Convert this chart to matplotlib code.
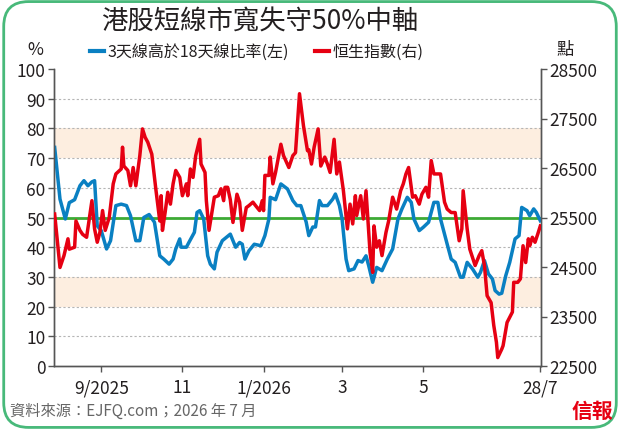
import matplotlib
matplotlib.use("Agg")
import matplotlib.pyplot as plt
import matplotlib.dates as mdates
from matplotlib.patches import FancyBboxPatch
import pandas as pd

plt.rcParams['font.family'] = ['Noto Sans CJK TC', 'DejaVu Sans']

# 3天線高於18天線比率 (左軸, %)
breadth_dates = [
    "2025-07-28", "2025-08-01", "2025-08-05", "2025-08-08", "2025-08-12", "2025-08-16",
    "2025-08-19", "2025-08-22", "2025-08-25", "2025-08-27", "2025-08-29", "2025-09-01",
    "2025-09-05", "2025-09-08", "2025-09-12", "2025-09-16", "2025-09-20", "2025-09-23",
    "2025-09-27", "2025-09-30", "2025-10-03", "2025-10-07", "2025-10-11", "2025-10-15",
    "2025-10-18", "2025-10-22", "2025-10-25", "2025-10-27", "2025-10-30", "2025-10-31",
    "2025-11-04", "2025-11-06", "2025-11-10", "2025-11-12", "2025-11-14", "2025-11-17",
    "2025-11-20", "2025-11-22", "2025-11-25", "2025-11-27", "2025-12-01", "2025-12-04",
    "2025-12-07", "2025-12-11", "2025-12-14", "2025-12-16", "2025-12-18", "2025-12-21",
    "2025-12-25", "2025-12-30", "2026-01-02", "2026-01-05", "2026-01-06", "2026-01-10",
    "2026-01-14", "2026-01-19", "2026-01-23", "2026-01-26", "2026-01-29", "2026-02-02",
    "2026-02-04", "2026-02-07", "2026-02-09", "2026-02-12", "2026-02-14", "2026-02-18",
    "2026-02-22", "2026-02-24", "2026-02-27", "2026-03-01", "2026-03-04", "2026-03-06",
    "2026-03-10", "2026-03-13", "2026-03-16", "2026-03-19", "2026-03-21", "2026-03-24",
    "2026-03-27", "2026-03-31", "2026-04-04", "2026-04-08", "2026-04-12", "2026-04-15",
    "2026-04-19", "2026-04-22", "2026-04-24", "2026-04-28", "2026-05-01", "2026-05-05",
    "2026-05-09", "2026-05-12", "2026-05-14", "2026-05-16", "2026-05-19", "2026-05-22",
    "2026-05-25", "2026-05-29", "2026-05-31", "2026-06-03", "2026-06-07", "2026-06-11",
    "2026-06-13", "2026-06-16", "2026-06-19", "2026-06-22", "2026-06-24", "2026-06-27",
    "2026-06-29", "2026-07-02", "2026-07-05", "2026-07-09", "2026-07-12", "2026-07-14",
    "2026-07-18", "2026-07-20", "2026-07-23", "2026-07-25", "2026-07-28",
]
breadth = [
    73.6, 56.2, 49.5, 55.0, 56.0, 60.7, 62.4, 60.7, 62.0, 62.4, 47.2, 45.6,
    39.4, 42.2, 54.0, 54.5, 54.0, 50.6, 42.2, 42.2, 50.0, 51.0, 48.4, 37.1,
    36.0, 34.3, 36.0, 39.4, 42.8, 40.0, 40.0, 41.7, 45.0, 51.7, 52.3, 49.5,
    37.1, 34.3, 32.7, 38.3, 42.2, 43.3, 44.4, 40.0, 41.6, 41.0, 36.0, 38.8,
    41.0, 40.5, 43.9, 49.5, 56.8, 56.0, 61.3, 59.6, 55.7, 54.0, 54.0, 48.5,
    43.9, 46.8, 46.8, 55.7, 54.0, 54.0, 56.2, 57.9, 54.0, 49.5, 36.0, 32.1,
    32.7, 35.5, 35.0, 37.1, 33.8, 28.2, 33.2, 32.1, 36.0, 39.4, 49.5, 52.9,
    56.8, 55.1, 49.5, 45.6, 46.7, 48.4, 55.1, 55.1, 49.5, 46.1, 41.0, 36.0,
    34.9, 29.9, 29.9, 34.9, 32.7, 29.9, 31.5, 35.5, 31.0, 29.3, 25.4, 24.2,
    24.5, 30.4, 34.9, 42.8, 43.9, 53.4, 52.3, 50.6, 52.9, 51.7, 48.9,
]

# 恒生指數 (右軸, 點)
hsi_dates = [
    "2025-07-28", "2025-08-01", "2025-08-04", "2025-08-07", "2025-08-08", "2025-08-12",
    "2025-08-13", "2025-08-16", "2025-08-18", "2025-08-21", "2025-08-25", "2025-08-27",
    "2025-08-29", "2025-08-31", "2025-09-02", "2025-09-04", "2025-09-07", "2025-09-10",
    "2025-09-12", "2025-09-16", "2025-09-17", "2025-09-18", "2025-09-21", "2025-09-23",
    "2025-09-25", "2025-09-27", "2025-09-30", "2025-10-02", "2025-10-04", "2025-10-06",
    "2025-10-09", "2025-10-12", "2025-10-15", "2025-10-16", "2025-10-17", "2025-10-19",
    "2025-10-21", "2025-10-23", "2025-10-25", "2025-10-27", "2025-10-30", "2025-11-01",
    "2025-11-04", "2025-11-05", "2025-11-07", "2025-11-09", "2025-11-11", "2025-11-14",
    "2025-11-15", "2025-11-18", "2025-11-19", "2025-11-21", "2025-11-25", "2025-11-28",
    "2025-11-30", "2025-12-02", "2025-12-03", "2025-12-05", "2025-12-07", "2025-12-09",
    "2025-12-12", "2025-12-14", "2025-12-16", "2025-12-19", "2025-12-21", "2025-12-24",
    "2025-12-26", "2025-12-29", "2025-12-31", "2026-01-01", "2026-01-02", "2026-01-05",
    "2026-01-06", "2026-01-08", "2026-01-10", "2026-01-14", "2026-01-16", "2026-01-20",
    "2026-01-23", "2026-01-25", "2026-01-28", "2026-01-31", "2026-02-03", "2026-02-04",
    "2026-02-06", "2026-02-08", "2026-02-11", "2026-02-13", "2026-02-16", "2026-02-18",
    "2026-02-20", "2026-02-23", "2026-02-25", "2026-02-27", "2026-03-02", "2026-03-05",
    "2026-03-07", "2026-03-09", "2026-03-11", "2026-03-12", "2026-03-15", "2026-03-17",
    "2026-03-19", "2026-03-21", "2026-03-22", "2026-03-24", "2026-03-25", "2026-03-27",
    "2026-03-29", "2026-03-31", "2026-04-03", "2026-04-05", "2026-04-08", "2026-04-11",
    "2026-04-14", "2026-04-16", "2026-04-18", "2026-04-20", "2026-04-23", "2026-04-25",
    "2026-04-28", "2026-04-30", "2026-05-03", "2026-05-05", "2026-05-07", "2026-05-09",
    "2026-05-12", "2026-05-14", "2026-05-17", "2026-05-19", "2026-05-22", "2026-05-25",
    "2026-05-28", "2026-05-30", "2026-05-31", "2026-06-03", "2026-06-05", "2026-06-09",
    "2026-06-12", "2026-06-14", "2026-06-16", "2026-06-18", "2026-06-21", "2026-06-23",
    "2026-06-25", "2026-06-26", "2026-06-29", "2026-06-30", "2026-07-03", "2026-07-07",
    "2026-07-08", "2026-07-11", "2026-07-13", "2026-07-15", "2026-07-17", "2026-07-19",
    "2026-07-20", "2026-07-22", "2026-07-24", "2026-07-26", "2026-07-28",
]
hsi = [
    25570, 24490, 24730, 25070, 24860, 24900, 25430, 25240, 25160, 25100, 25840, 25270,
    25000, 25200, 25640, 25240, 25500, 26180, 26380, 26480, 26920, 26540, 26450, 26140,
    26510, 26140, 26750, 27290, 27120, 27020, 26780, 26080, 25430, 25940, 25240, 25600,
    26010, 25770, 26180, 26450, 26310, 25940, 26180, 25940, 26480, 26310, 26750, 27080,
    26580, 26410, 25840, 25240, 25910, 25940, 26080, 25840, 26110, 26110, 25860, 25400,
    25970, 25810, 25240, 25700, 25740, 25810, 25740, 25640, 25840, 25640, 26350, 26350,
    26720, 26180, 26410, 26980, 26750, 26510, 26750, 26810, 28000, 27350, 26850, 26870,
    26580, 26920, 27290, 26540, 26720, 26580, 26410, 27080, 26380, 26620, 26040, 25270,
    25770, 25370, 25940, 25540, 25940, 25470, 26040, 25200, 24800, 24390, 25330, 24900,
    25030, 24730, 25200, 25430, 25910, 25670, 26040, 26180, 26380, 26510, 25910, 25940,
    25770, 25970, 26110, 25910, 26650, 26380, 26380, 26380, 25810, 25670, 25600, 25600,
    25030, 25270, 26040, 25270, 24860, 24530, 24730, 24830, 24530, 23920, 23780, 23320,
    22980, 22670, 22840, 22910, 23380, 23590, 24190, 24190, 24260, 24930, 24590, 25070,
    24930, 25100, 25000, 25160, 25330,
]

tick_dates = ["2025-09-01", "2025-11-01", "2026-01-01", "2026-03-01", "2026-05-01", "2026-07-28"]
tick_labels = ["9/2025", "11", "1/2026", "3", "5", "28/7"]
left_ticks = list(range(0, 101, 10))
right_ticks = list(range(22500, 28501, 1000))

BLUE = "#0a80c2"
RED = "#e60012"
GREEN = "#3daa35"
BAND = "#fdeee0"
TXT = "#231f20"

fig = plt.figure(figsize=(6.2, 4.31), dpi=100)
fig.patch.set_facecolor("white")

border = FancyBboxPatch((0.006, 0.006), 0.988, 0.988, boxstyle="round,pad=0,rounding_size=0.04",
                        transform=fig.transFigure, facecolor="none", edgecolor="#48b97a",
                        linewidth=2.0, mutation_aspect=620 / 431)
fig.patches.append(border)

ax = fig.add_axes([54 / 620, 1 - 367 / 431, 487 / 620, 297 / 431])
ax2 = ax.twinx()

bd = pd.to_datetime(breadth_dates)
hd = pd.to_datetime(hsi_dates)

ax.axhspan(70, 80, color=BAND, zorder=0, lw=0)
ax.axhspan(20, 30, color=BAND, zorder=0, lw=0)
for v in range(10, 100, 10):
    ax.axhline(v, color="#b5b5b5", lw=0.8, ls=(0, (2, 2)), zorder=1)
ax.axhline(50, color=GREEN, lw=2.0, zorder=2)
ax.plot(bd, breadth, color=BLUE, lw=2.5, zorder=3, solid_joinstyle="round")
ax2.plot(hd, hsi, color=RED, lw=2.5, zorder=3, solid_joinstyle="round")

ax.set_ylim(0, 100)
ax2.set_ylim(22500, 28500)
ax.set_xlim(pd.Timestamp("2025-07-27 12:00"), pd.Timestamp("2026-07-28 12:00"))

ax.set_yticks(left_ticks)
ax2.set_yticks(right_ticks)
ax.set_xticks(pd.to_datetime(tick_dates))
ax.set_xticklabels(tick_labels)

for a in (ax, ax2):
    a.spines["top"].set_visible(False)
    for s in ("left", "right", "bottom"):
        a.spines[s].set_color("#555555")
        a.spines[s].set_linewidth(1.0)
    a.tick_params(direction="out", length=4, width=1.0, color="#555555",
                  labelsize=12.5, labelcolor=TXT, pad=2)
ax.tick_params(axis="x", pad=5)

fig.text(260 / 620, 1 - 22 / 431, "港股短線市寬失守50%中軸", ha="center", va="center",
         fontsize=19, color=TXT)

fig.text(35 / 620, 1 - 50 / 431, "%", ha="center", va="center", fontsize=12.5, color=TXT)
fig.text(565 / 620, 1 - 50 / 431, "點", ha="center", va="center", fontsize=12.5, color=TXT)

ly = 1 - 52 / 431
fig.lines.append(plt.Line2D([90 / 620, 104 / 620], [ly, ly], color=BLUE, lw=3, transform=fig.transFigure))
fig.text(107 / 620, ly, "3天線高於18天線比率(左)", ha="left", va="center", fontsize=11.5, color=TXT)
fig.lines.append(plt.Line2D([315 / 620, 329 / 620], [ly, ly], color=RED, lw=3, transform=fig.transFigure))
fig.text(333 / 620, ly, "恒生指數(右)", ha="left", va="center", fontsize=11.5, color=TXT)

fig.text(10 / 620, 1 - 411 / 431, "資料來源：EJFQ.com；2026 年 7 月", ha="left", va="center",
         fontsize=11, color="#666666")
fig.text(592 / 620, 1 - 411 / 431, "信報", ha="center", va="center", fontsize=15,
         color=RED, fontweight="bold")

fig.savefig("out.png", dpi=100)
